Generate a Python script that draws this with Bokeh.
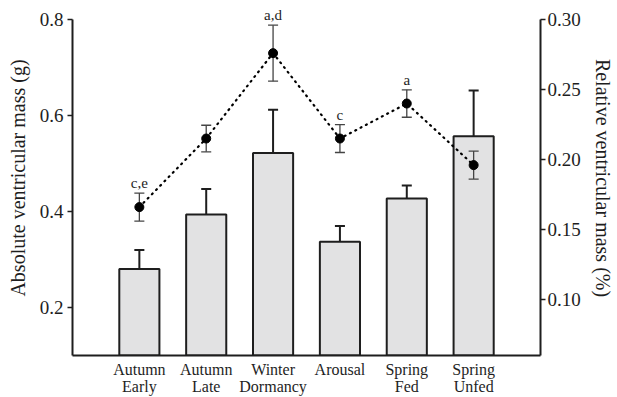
from bokeh.plotting import figure
from bokeh.models import Range1d, LinearAxis, FixedTicker, ColumnDataSource
from bokeh.core.properties import value
from bokeh.embed import file_html
from bokeh.resources import INLINE

categories = ["Autumn\nEarly", "Autumn\nLate", "Winter\nDormancy", "Arousal", "Spring\nFed", "Spring\nUnfed"]
abs_mass = [0.280, 0.394, 0.522, 0.337, 0.427, 0.557]
abs_err = [0.040, 0.053, 0.090, 0.033, 0.027, 0.095]
rel_mass = [0.166, 0.215, 0.276, 0.215, 0.240, 0.196]
rel_err = [0.010, 0.0095, 0.020, 0.010, 0.0098, 0.010]
letters = ["c,e", "", "a,d", "c", "a", ""]
left_ticks = [0.2, 0.4, 0.6, 0.8]
right_ticks = [0.10, 0.15, 0.20, 0.25, 0.30]

FONT = "Liberation Serif"
INK = "#1e1e1e"

xs = list(range(1, len(categories) + 1))
cap = 0.075

p = figure(width=617, height=397, output_backend="svg", toolbar_location=None,
           x_range=Range1d(0, 7), y_range=Range1d(0.1, 0.8396),
           min_border_left=72, min_border_right=77, min_border_top=0, min_border_bottom=42)
p.extra_y_ranges = {"rel": Range1d(0.06, 0.3136)}
p.outline_line_color = None
p.grid.visible = False
p.background_fill_color = "white"
p.border_fill_color = "white"

bars = ColumnDataSource(dict(x=xs, top=abs_mass,
                             up=[m + e for m, e in zip(abs_mass, abs_err)],
                             x0=[x - cap for x in xs], x1=[x + cap for x in xs]))
p.vbar(x="x", top="top", bottom=0, width=0.6, source=bars,
       fill_color="#e2e2e3", line_color=INK, line_width=2)
p.segment(x0="x", y0="top", x1="x", y1="up", source=bars, line_color=INK, line_width=2)
p.segment(x0="x0", y0="up", x1="x1", y1="up", source=bars, line_color=INK, line_width=2)

pts = ColumnDataSource(dict(x=xs, y=rel_mass,
                            lo=[m - e for m, e in zip(rel_mass, rel_err)],
                            hi=[m + e for m, e in zip(rel_mass, rel_err)],
                            x0=[x - cap for x in xs], x1=[x + cap for x in xs],
                            lab=letters))
p.line(x="x", y="y", source=pts, y_range_name="rel", line_color="black",
       line_width=2.2, line_dash="1 5", line_cap="round")
p.segment(x0="x", y0="lo", x1="x", y1="hi", source=pts, y_range_name="rel",
          line_color="#444444", line_width=1.3)
p.segment(x0="x0", y0="lo", x1="x1", y1="lo", source=pts, y_range_name="rel",
          line_color="#444444", line_width=1.3)
p.segment(x0="x0", y0="hi", x1="x1", y1="hi", source=pts, y_range_name="rel",
          line_color="#444444", line_width=1.3)
p.scatter(x="x", y="y", source=pts, y_range_name="rel", size=9,
          fill_color="black", line_color="black")
p.text(x="x", y="hi", text="lab", source=pts, y_range_name="rel",
       text_font=value(FONT), text_font_size="15px", text_color=INK,
       text_align="center", text_baseline="alphabetic", y_offset=-10)

def style(ax):
    ax.axis_line_color = INK
    ax.axis_line_width = 2
    ax.major_tick_line_color = INK
    ax.major_tick_line_width = 1.5
    ax.major_tick_out = 5
    ax.major_tick_in = 0
    ax.minor_tick_line_color = None
    ax.major_label_text_font = FONT
    ax.major_label_text_color = INK
    ax.axis_label_text_font = FONT
    ax.axis_label_text_font_style = "normal"
    ax.axis_label_text_color = INK

# left axis
la = p.yaxis[0]
style(la)
la.ticker = FixedTicker(ticks=left_ticks)
la.major_label_overrides = {t: f"{t:.1f}" for t in left_ticks}
la.bounds = (0.1, 0.8)
la.major_label_text_font_size = "19px"
la.major_label_standoff = 4
la.axis_label = "Absolute ventricular mass (g)"
la.axis_label_text_font_size = "20px"
la.axis_label_standoff = 8

# right axis
ra = LinearAxis(y_range_name="rel", ticker=FixedTicker(ticks=right_ticks), bounds=(0.06, 0.30))
style(ra)
ra.major_label_overrides = {t: f"{t:.2f}" for t in right_ticks}
ra.major_label_text_font_size = "19px"
ra.major_label_standoff = 2
ra.axis_label = "Relative ventricular mass (%)"
ra.axis_label_text_font_size = "20px"
ra.axis_label_standoff = 8
p.add_layout(ra, "right")

# bottom axis
ba = p.xaxis[0]
style(ba)
ba.ticker = FixedTicker(ticks=xs)
ba.major_label_overrides = {x: c for x, c in zip(xs, categories)}
ba.major_tick_line_color = None
ba.major_tick_out = 0
ba.major_label_text_font_size = "16px"
ba.major_label_text_line_height = 1.0
ba.major_label_standoff = 5
ba.axis_label_standoff = 0

open("out.html", "w").write(file_html(p, INLINE))
